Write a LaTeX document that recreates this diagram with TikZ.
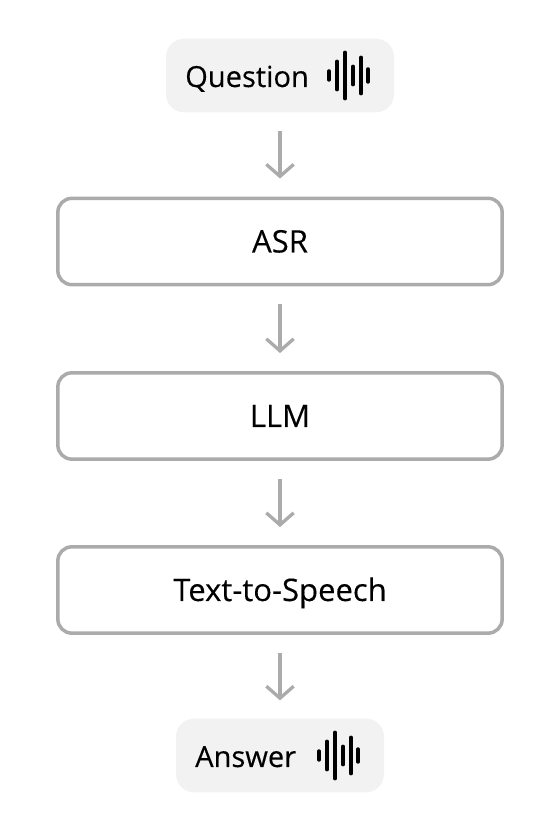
\documentclass[tikz,border=0pt]{standalone}
\usepackage{fontspec}
\setmainfont{Open Sans}[FakeBold=0.25]
\usetikzlibrary{arrows.meta}
\definecolor{linegray}{HTML}{ABABAB}
\definecolor{voicegray}{HTML}{F2F2F2}

\begin{document}
\begin{tikzpicture}[every node/.style={text=black},
  stagebox/.style={draw=linegray,line width=.105cm,rounded corners=.42cm,minimum width=13.33cm,minimum height=2.59cm,text height=.66cm,text depth=0pt,font=\fontsize{26.5}{30}\selectfont},
  voicebox/.style={fill=voicegray,rounded corners=.54cm,minimum height=2.21cm},
  voicetext/.style={anchor=base west,inner sep=0pt,font=\fontsize{24.8}{30}\selectfont},
  flow/.style={draw=linegray,line width=.1cm,-{Straight Barb[length=.36cm,width=.82cm,line width=.1cm]},shorten >=.54cm,shorten <=.54cm},
  wavebar/.style={line width=.115cm,line cap=round,black}]
\useasboundingbox (0,0) rectangle (16.53,24.75);
\node[voicebox,minimum width=6.84cm] (question) at (8.4,22.485) {};
\node[voicetext] (questiontext) at (5.55,22.14) {Question};
\node[stagebox] (asr) at (8.4,17.505) {ASR};
\node[stagebox] (llm) at (8.4,12.27) {LLM};
\node[stagebox] (tts) at (8.4,7.05) {Text-to-Speech};
\node[voicebox,minimum width=6.24cm] (answer) at (8.4,2.085) {};
\node[voicetext] (answertext) at (5.85,1.74) {Answer};
\draw[flow] (question) -- (asr);
\draw[flow] (asr) -- (llm);
\draw[flow] (llm) -- (tts);
\draw[flow] (tts) -- (answer);
% sound bars: x offset / half height
\foreach \wx/\wh in {0/.13,.24/.42,.48/.69,.72/.27,.96/.54,1.17/.19} {
  \draw[wavebar] (9.87+\wx,22.485-\wh) -- (9.87+\wx,22.485+\wh);
  \draw[wavebar] (9.57+\wx,2.085-\wh) -- (9.57+\wx,2.085+\wh);
}
\end{tikzpicture}
\end{document}
